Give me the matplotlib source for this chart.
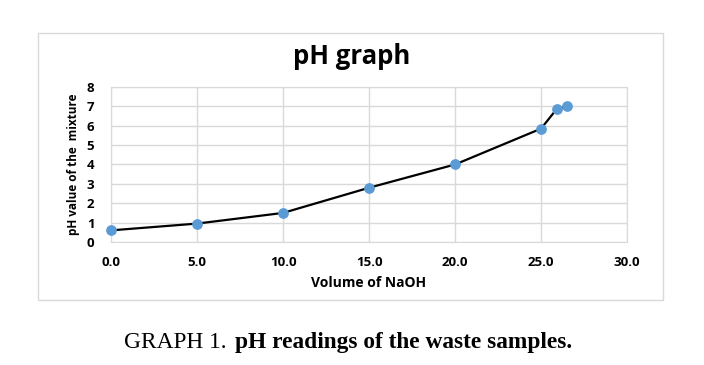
import matplotlib.pyplot as plt
from matplotlib.patches import Rectangle

# NaOH volume vs pH
volume = [0.0, 5.0, 10.0, 15.0, 20.0, 25.0, 25.9, 26.5]
ph = [0.6, 0.95, 1.5, 2.8, 4.0, 5.85, 6.85, 7.0]
x_ticks = [0, 5, 10, 15, 20, 25, 30]
y_ticks = [0, 1, 2, 3, 4, 5, 6, 7, 8]

fig = plt.figure(figsize=(7.04, 3.65), dpi=100)

# outer chart frame
fig.patches.append(Rectangle((0.054, 0.178), 0.888, 0.7315, transform=fig.transFigure,
                             fill=False, edgecolor='#d9d9d9', linewidth=1.0))

ax = fig.add_axes([0.1577, 0.337, 0.733, 0.4247])
ax.plot(volume, ph, color='black', linewidth=1.6, zorder=2)
ax.scatter(volume, ph, s=45, color='#5b9bd5', zorder=3, clip_on=False)

ax.set_xlim(0, 30)
ax.set_ylim(0, 8)
ax.set_xticks(x_ticks)
ax.set_xticklabels([f"{t:.1f}" for t in x_ticks])
ax.set_yticks(y_ticks)
ax.tick_params(axis='x', length=0, labelsize=9.5, pad=10)
ax.tick_params(axis='y', length=0, labelsize=9.5, pad=12)
for lbl in ax.get_xticklabels() + ax.get_yticklabels():
    lbl.set_fontweight('bold')
    lbl.set_fontfamily('Open Sans')

ax.grid(True, color='#d9d9d9', linewidth=1.0)
ax.set_axisbelow(True)
for s in ax.spines.values():
    s.set_color('#d9d9d9')

ax.set_xlabel("Volume of NaOH", fontsize=10, fontweight='bold', family='Open Sans', labelpad=5)
ax.set_ylabel("pH value of the  mixture", fontsize=8.5, fontweight='bold', family='Open Sans', labelpad=5)

fig.text(0.5, 0.846, "pH graph", ha='center', va='center', fontsize=18.5,
         fontweight='bold', family='Open Sans')

fig.text(0.3215, 0.063, "GRAPH 1.", ha='right', va='center', fontsize=16.8, family='Liberation Serif')
fig.text(0.3335, 0.063, "pH readings of the waste samples.", ha='left', va='center', fontsize=16.8,
         fontweight='bold', family='Liberation Serif')

plt.savefig("out.png", dpi=100)
plt.close()
